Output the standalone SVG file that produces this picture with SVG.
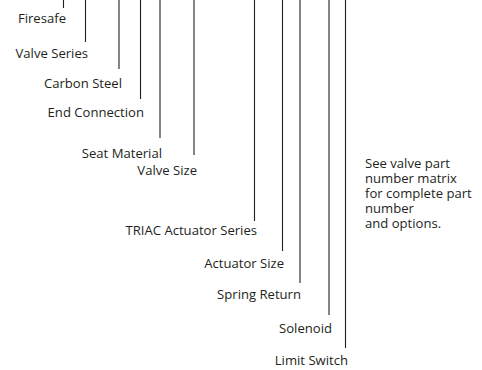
<svg xmlns="http://www.w3.org/2000/svg" width="482" height="370" viewBox="0 0 482 370">
<style>
.bg{fill:#fff}
.ln{stroke:#231f20;stroke-width:1.1;fill:none}
.lb{font-family:"Open Sans","Liberation Sans",Arial,sans-serif;font-size:13.1px;font-weight:500;fill:#231f20;text-anchor:end}
.nt{font-family:"Open Sans","Liberation Sans",Arial,sans-serif;font-size:13.1px;fill:#231f20}
</style>
<rect class="bg" x="0" y="0" width="482" height="370"/>
<g id="connectors">
<line class="ln" x1="63.5" y1="0" x2="63.5" y2="8"/>
<line class="ln" x1="85.5" y1="0" x2="85.5" y2="42"/>
<line class="ln" x1="119" y1="0" x2="119" y2="69"/>
<line class="ln" x1="140.5" y1="0" x2="140.5" y2="99"/>
<line class="ln" x1="160" y1="0" x2="160" y2="138"/>
<line class="ln" x1="194" y1="0" x2="194" y2="155"/>
<line class="ln" x1="254.5" y1="0" x2="254.5" y2="221"/>
<line class="ln" x1="282.5" y1="0" x2="282.5" y2="251"/>
<line class="ln" x1="300" y1="0" x2="300" y2="283"/>
<line class="ln" x1="329" y1="0" x2="329" y2="315"/>
<line class="ln" x1="345.5" y1="0" x2="345.5" y2="348"/>
</g>
<g id="firesafe"><text class="lb" x="66" y="23">Firesafe</text></g>
<g id="valve-series"><text class="lb" x="88" y="58">Valve Series</text></g>
<g id="carbon-steel"><text class="lb" x="122" y="88">Carbon Steel</text></g>
<g id="end-connection"><text class="lb" x="144" y="117">End Connection</text></g>
<g id="seat-material"><text class="lb" x="162" y="158">Seat Material</text></g>
<g id="valve-size"><text class="lb" x="197" y="175">Valve Size</text></g>
<g id="triac-actuator-series"><text class="lb" x="257" y="235">TRIAC Actuator Series</text></g>
<g id="actuator-size"><text class="lb" x="284" y="268">Actuator Size</text></g>
<g id="spring-return"><text class="lb" x="301" y="299">Spring Return</text></g>
<g id="solenoid"><text class="lb" x="332" y="333">Solenoid</text></g>
<g id="limit-switch"><text class="lb" x="348" y="365">Limit Switch</text></g>
<g id="note">
<text class="nt" x="365" y="168">See valve part<tspan x="365" dy="15">number matrix</tspan><tspan x="365" dy="15">for complete part</tspan><tspan x="365" dy="15">number</tspan><tspan x="365" dy="15">and options.</tspan></text>
</g>
</svg>
